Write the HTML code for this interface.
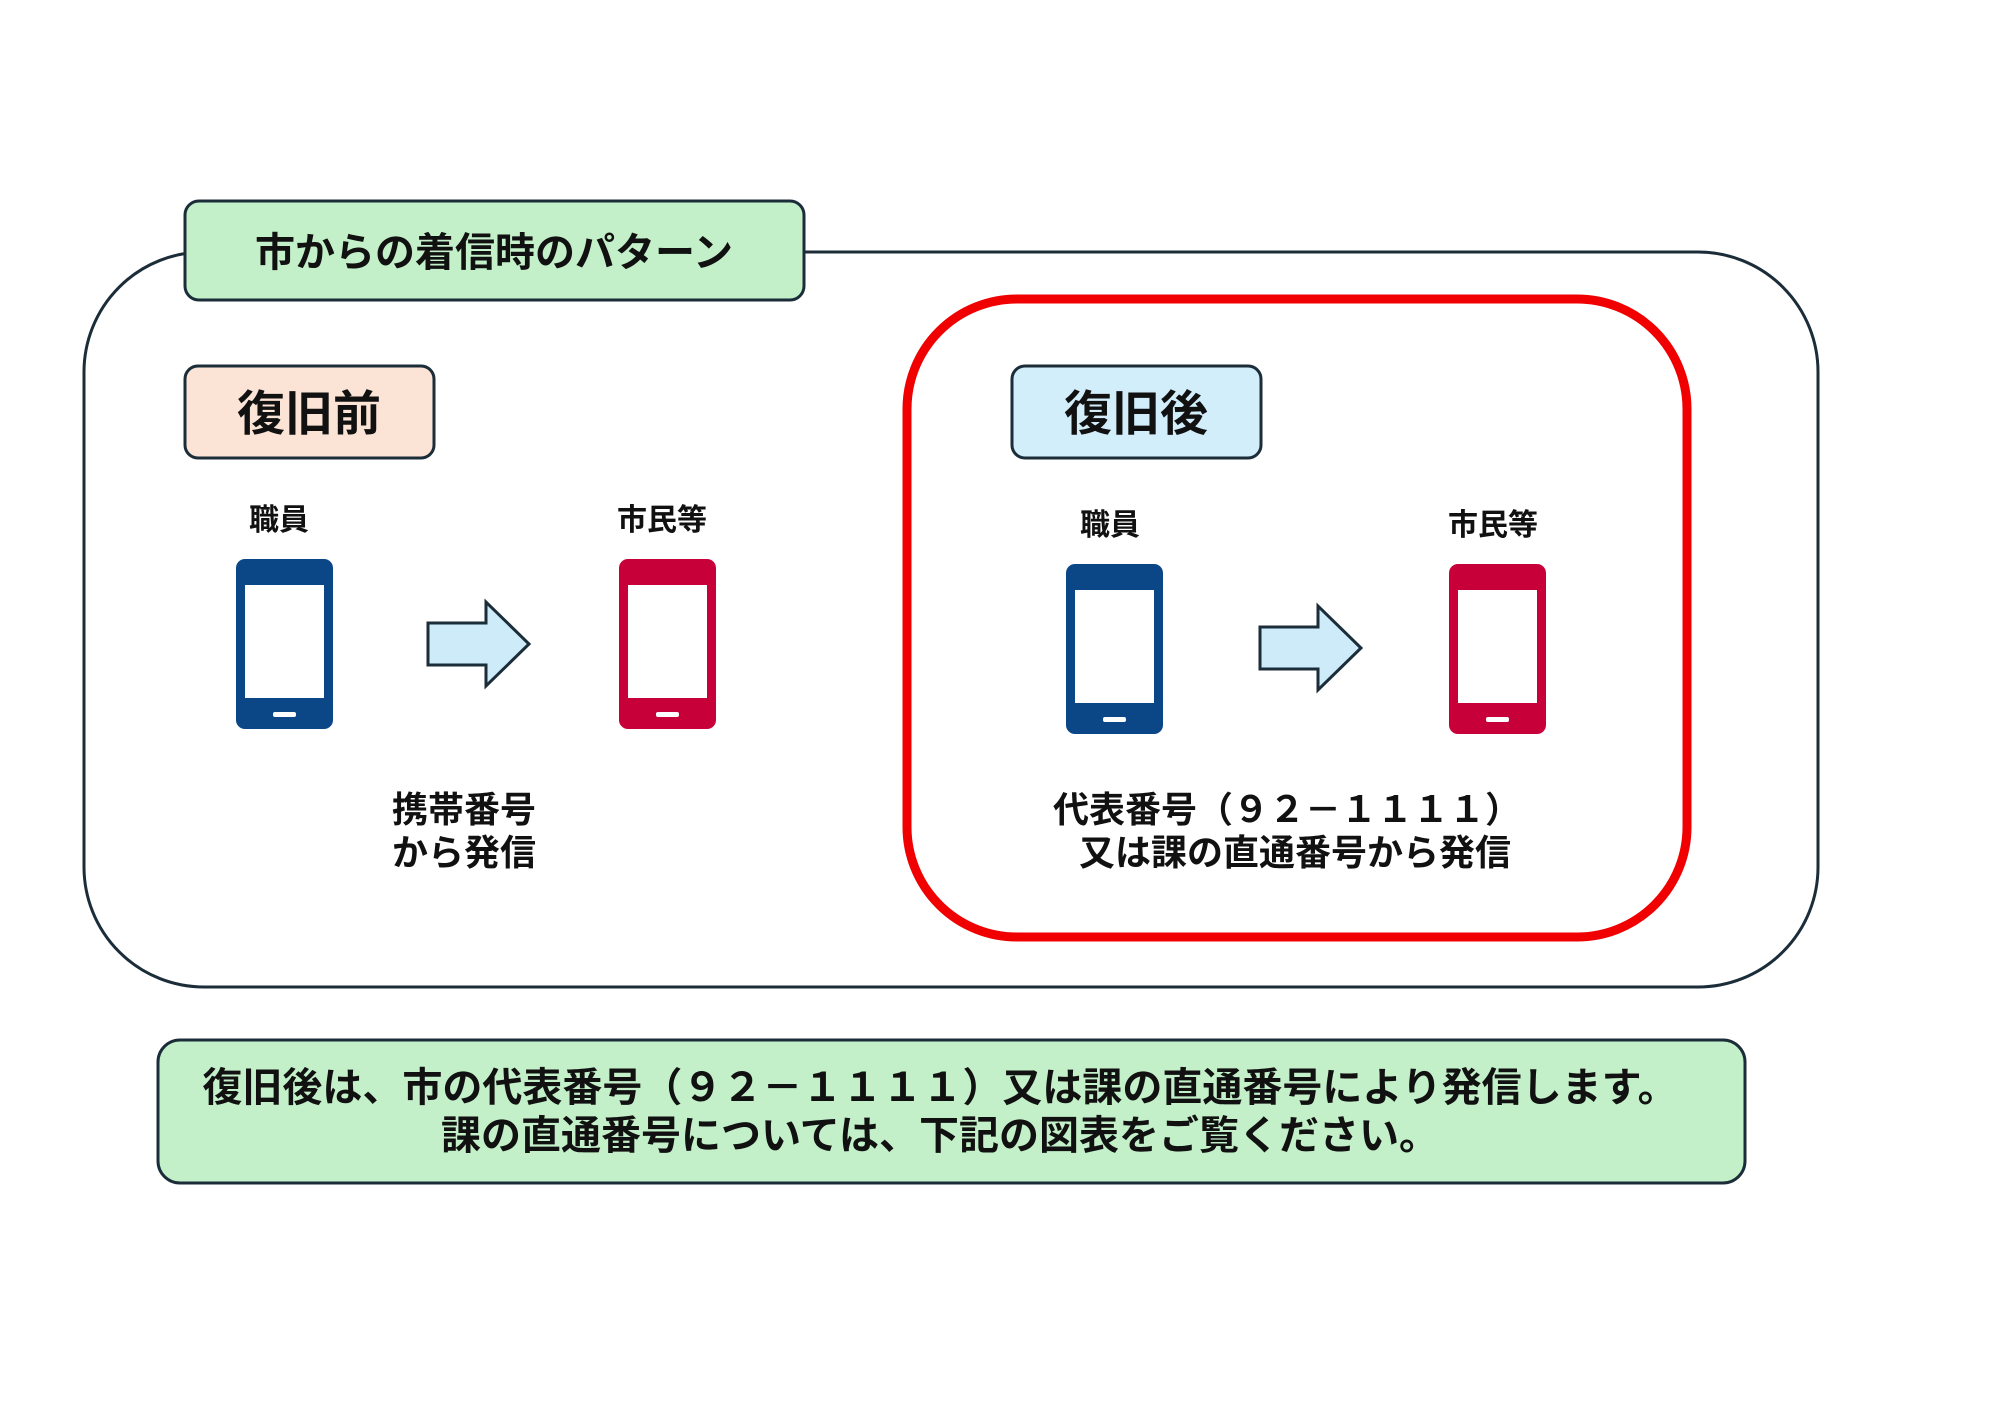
<!DOCTYPE html>
<html><head><meta charset="utf-8"><style>
html,body{margin:0;padding:0;background:#fff;}
svg{display:block;}
text{font-family:"Liberation Sans","Noto Sans CJK JP",sans-serif;font-weight:bold;fill:#111;}
</style></head><body>
<svg width="2000" height="1414" viewBox="0 0 2000 1414" xmlns="http://www.w3.org/2000/svg">
<defs>
<g id="phone">
  <rect x="0" y="0" width="97" height="170" rx="9" fill="currentColor"/>
  <rect x="9" y="26" width="79" height="113" fill="#fff"/>
  <rect x="37" y="153" width="23" height="5" rx="2" fill="#fff"/>
</g>
<path id="arrow" d="M0,21 H58 V0 L101,42 L58,84 V63 H0 Z" fill="#cdebf9" stroke="#1c2d3a" stroke-width="3" stroke-linejoin="miter"/>
</defs>
<rect x="84" y="252" width="1734" height="735" rx="120" fill="#fff" stroke="#1c2d3a" stroke-width="3"/>
<rect x="185" y="201" width="619" height="99" rx="14" fill="#c3f0c9" stroke="#1c2d3a" stroke-width="3"/>
<text x="494" y="266" font-size="40" text-anchor="middle">市からの着信時のパターン</text>
<rect x="907" y="299" width="780" height="638" rx="110" fill="none" stroke="#f00000" stroke-width="9"/>
<rect x="185" y="366" width="249" height="92" rx="13" fill="#fbe4d5" stroke="#1c2d3a" stroke-width="3"/>
<text x="309" y="430" font-size="48" text-anchor="middle">復旧前</text>
<rect x="1012" y="366" width="249" height="92" rx="13" fill="#d2eefb" stroke="#1c2d3a" stroke-width="3"/>
<text x="1136" y="430" font-size="48" text-anchor="middle">復旧後</text>
<text x="279" y="530" font-size="30" text-anchor="middle">職員</text>
<text x="662" y="530" font-size="30" text-anchor="middle">市民等</text>
<use href="#phone" x="236" y="559" style="color:#0b4687"/>
<use href="#arrow" x="428" y="602"/>
<use href="#phone" x="619" y="559" style="color:#c8003a"/>
<text x="464" y="822" font-size="36" text-anchor="middle">携帯番号</text>
<text x="464" y="865" font-size="36" text-anchor="middle">から発信</text>
<text x="1110" y="535" font-size="30" text-anchor="middle">職員</text>
<text x="1493" y="535" font-size="30" text-anchor="middle">市民等</text>
<use href="#phone" x="1066" y="564" style="color:#0b4687"/>
<use href="#arrow" x="1260" y="606"/>
<use href="#phone" x="1449" y="564" style="color:#c8003a"/>
<text x="1287" y="822" font-size="36" text-anchor="middle">代表番号（９２－１１１１）</text>
<text x="1295" y="865" font-size="36" text-anchor="middle">又は課の直通番号から発信</text>
<rect x="158" y="1040" width="1587" height="143" rx="22" fill="#c3f0c9" stroke="#1c2d3a" stroke-width="3"/>
<text x="940" y="1101" font-size="40" text-anchor="middle">復旧後は、市の代表番号（９２－１１１１）又は課の直通番号により発信します。</text>
<text x="940" y="1149" font-size="40" text-anchor="middle">課の直通番号については、下記の図表をご覧ください。</text>
</svg>
</body></html>
